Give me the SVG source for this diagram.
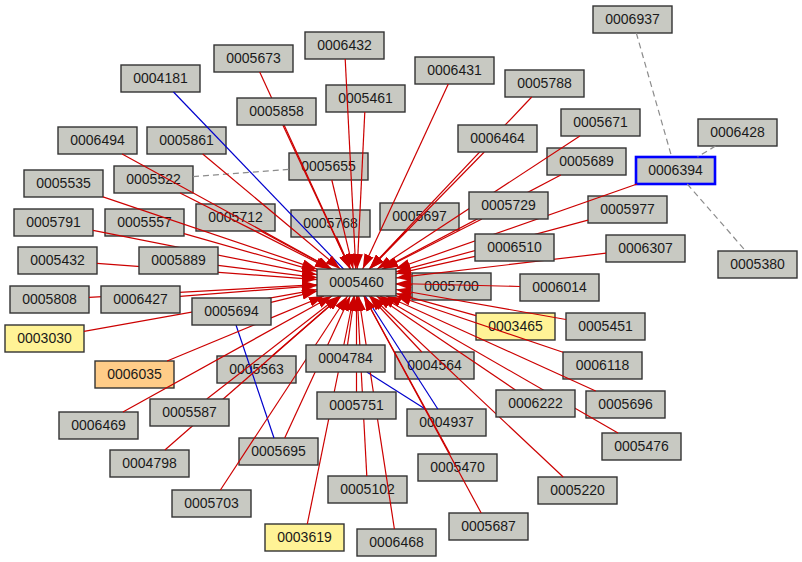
<svg xmlns="http://www.w3.org/2000/svg" width="802" height="562" viewBox="0 0 802 562">
<defs>
<marker id="ah" viewBox="0 0 15 10" markerWidth="15" markerHeight="10" refX="15" refY="5" orient="auto" markerUnits="userSpaceOnUse"><path d="M0,0L15,5L0,10z" fill="#cc0000"/></marker>
<style>
.n rect{fill:#c8c9c2;stroke:#333;stroke-width:1.4}
.y rect{fill:#fff396}
.o rect{fill:#ffcc88}
.sel rect{stroke:#0000ff;stroke-width:2.6}
text{font-family:"Liberation Sans",Arial,sans-serif;font-size:14px;fill:#1a1a1a;text-anchor:middle}
.r line{stroke:#cc0000;stroke-width:1.2;marker-end:url(#ah)}
.b line{stroke:#0000cc;stroke-width:1.2}
.g line{stroke:#8c8c8c;stroke-width:1.2;stroke-dasharray:6,4}
</style>
</defs>
<rect width="802" height="562" fill="#fff"/>
<g id="nodes-under">
<g id="n0006937" class="n"><rect x="593" y="6" width="79" height="27"/><text x="632.5" y="23.7">0006937</text></g>
<g id="n0006432" class="n"><rect x="305" y="32" width="79" height="27"/><text x="344.5" y="49.7">0006432</text></g>
<g id="n0005673" class="n"><rect x="214" y="45" width="79" height="27"/><text x="253.5" y="62.7">0005673</text></g>
<g id="n0004181" class="n"><rect x="121" y="65" width="79" height="27"/><text x="160.5" y="82.7">0004181</text></g>
<g id="n0006431" class="n"><rect x="415" y="57" width="79" height="27"/><text x="454.5" y="74.7">0006431</text></g>
<g id="n0005788" class="n"><rect x="505" y="70" width="79" height="27"/><text x="544.5" y="87.7">0005788</text></g>
<g id="n0005461" class="n"><rect x="326" y="85" width="79" height="27"/><text x="365.5" y="102.7">0005461</text></g>
<g id="n0005671" class="n"><rect x="561" y="109" width="79" height="27"/><text x="600.5" y="126.7">0005671</text></g>
<g id="n0006428" class="n"><rect x="698" y="119" width="79" height="27"/><text x="737.5" y="136.7">0006428</text></g>
<g id="n0006494" class="n"><rect x="58" y="127" width="79" height="27"/><text x="97.5" y="144.7">0006494</text></g>
<g id="n0005861" class="n"><rect x="147" y="127" width="79" height="27"/><text x="186.5" y="144.7">0005861</text></g>
<g id="n0005655" class="n"><rect x="289" y="153" width="79" height="27"/><text x="328.5" y="170.7">0005655</text></g>
<g id="n0005689" class="n"><rect x="547" y="148" width="79" height="27"/><text x="586.5" y="165.7">0005689</text></g>
<g id="n0006394" class="n sel"><rect x="636" y="157" width="79" height="27"/><text x="675.5" y="174.7">0006394</text></g>
<g id="n0005535" class="n"><rect x="24" y="170" width="79" height="27"/><text x="63.5" y="187.7">0005535</text></g>
<g id="n0005522" class="n"><rect x="114" y="166" width="79" height="27"/><text x="153.5" y="183.7">0005522</text></g>
<g id="n0005977" class="n"><rect x="588" y="196" width="79" height="27"/><text x="627.5" y="213.7">0005977</text></g>
<g id="n0005791" class="n"><rect x="14" y="209" width="79" height="27"/><text x="53.5" y="226.7">0005791</text></g>
<g id="n0005557" class="n"><rect x="105" y="209" width="79" height="27"/><text x="144.5" y="226.7">0005557</text></g>
<g id="n0005712" class="n"><rect x="196" y="204" width="79" height="27"/><text x="235.5" y="221.7">0005712</text></g>
<g id="n0005768" class="n"><rect x="291" y="210" width="79" height="27"/><text x="330.5" y="227.7">0005768</text></g>
<g id="n0005697" class="n"><rect x="380" y="203" width="79" height="27"/><text x="419.5" y="220.7">0005697</text></g>
<g id="n0006307" class="n"><rect x="606" y="235" width="79" height="27"/><text x="645.5" y="252.7">0006307</text></g>
<g id="n0005380" class="n"><rect x="718" y="251" width="79" height="27"/><text x="757.5" y="268.7">0005380</text></g>
<g id="n0005432" class="n"><rect x="18" y="247" width="79" height="27"/><text x="57.5" y="264.7">0005432</text></g>
<g id="n0005700" class="n"><rect x="412" y="273" width="79" height="27"/><text x="451.5" y="290.7">0005700</text></g>
<g id="n0006014" class="n"><rect x="520" y="274" width="79" height="27"/><text x="559.5" y="291.7">0006014</text></g>
<g id="n0005808" class="n"><rect x="10" y="286" width="79" height="27"/><text x="49.5" y="303.7">0005808</text></g>
<g id="n0003465" class="n y"><rect x="476" y="313" width="79" height="27"/><text x="515.5" y="330.7">0003465</text></g>
<g id="n0005451" class="n"><rect x="566" y="313" width="79" height="27"/><text x="605.5" y="330.7">0005451</text></g>
<g id="n0003030" class="n y"><rect x="5" y="325" width="79" height="27"/><text x="44.5" y="342.7">0003030</text></g>
<g id="n0004564" class="n"><rect x="395" y="352" width="79" height="27"/><text x="434.5" y="369.7">0004564</text></g>
<g id="n0006118" class="n"><rect x="563" y="352" width="79" height="27"/><text x="602.5" y="369.7">0006118</text></g>
<g id="n0006035" class="n o"><rect x="95" y="361" width="79" height="27"/><text x="134.5" y="378.7">0006035</text></g>
<g id="n0005563" class="n"><rect x="217" y="356" width="79" height="27"/><text x="256.5" y="373.7">0005563</text></g>
<g id="n0006469" class="n"><rect x="59" y="412" width="79" height="27"/><text x="98.5" y="429.7">0006469</text></g>
<g id="n0005696" class="n"><rect x="586" y="391" width="79" height="27"/><text x="625.5" y="408.7">0005696</text></g>
<g id="n0004937" class="n"><rect x="407" y="409" width="79" height="27"/><text x="446.5" y="426.7">0004937</text></g>
<g id="n0004798" class="n"><rect x="110" y="450" width="79" height="27"/><text x="149.5" y="467.7">0004798</text></g>
<g id="n0005695" class="n"><rect x="239" y="438" width="79" height="27"/><text x="278.5" y="455.7">0005695</text></g>
<g id="n0005476" class="n"><rect x="602" y="433" width="79" height="27"/><text x="641.5" y="450.7">0005476</text></g>
<g id="n0005470" class="n"><rect x="418" y="454" width="79" height="27"/><text x="457.5" y="471.7">0005470</text></g>
<g id="n0005703" class="n"><rect x="172" y="490" width="79" height="27"/><text x="211.5" y="507.7">0005703</text></g>
<g id="n0005102" class="n"><rect x="328" y="476" width="79" height="27"/><text x="367.5" y="493.7">0005102</text></g>
<g id="n0005220" class="n"><rect x="538" y="477" width="79" height="27"/><text x="577.5" y="494.7">0005220</text></g>
<g id="n0005687" class="n"><rect x="449" y="513" width="79" height="27"/><text x="488.5" y="530.7">0005687</text></g>
<g id="n0003619" class="n y"><rect x="265" y="524" width="79" height="27"/><text x="304.5" y="541.7">0003619</text></g>
<g id="n0006468" class="n"><rect x="357" y="529" width="79" height="27"/><text x="396.5" y="546.7">0006468</text></g>
</g>
<g id="connectors">
<g class="g">
<line x1="193" y1="176.6" x2="289" y2="169.4"/>
<line x1="636.3" y1="33" x2="671.7" y2="157"/>
<line x1="715.5" y1="146" x2="697.5" y2="157"/>
<line x1="687.3" y1="184" x2="745.7" y2="251"/>
</g>
<g class="b">
<line x1="173.5" y1="92" x2="343.5" y2="269"/>
<line x1="365.2" y1="296" x2="437.8" y2="409"/>
<line x1="366.8" y1="372" x2="425.2" y2="409"/>
<line x1="236" y1="325" x2="274" y2="438"/>
</g>
<g class="r">
<line x1="345.2" y1="59" x2="355.8" y2="269"/>
<line x1="259.7" y1="72" x2="350.3" y2="269"/>
<line x1="448.3" y1="84" x2="362.7" y2="269"/>
<line x1="531.7" y1="97" x2="369.2" y2="269"/>
<line x1="282.8" y1="125" x2="350.2" y2="269"/>
<line x1="364.8" y1="112" x2="357.2" y2="269"/>
<line x1="484.3" y1="152" x2="369.7" y2="269"/>
<line x1="579.9" y1="136" x2="377.1" y2="269"/>
<line x1="122.1" y1="154" x2="331.9" y2="269"/>
<line x1="202.7" y1="154" x2="340.3" y2="269"/>
<line x1="331.8" y1="180" x2="353.2" y2="269"/>
<line x1="560.8" y1="175" x2="382.2" y2="269"/>
<line x1="637.1" y1="184" x2="395" y2="269"/>
<line x1="103" y1="196.9" x2="317" y2="269.1"/>
<line x1="180.1" y1="193" x2="329.9" y2="269"/>
<line x1="481.9" y1="219" x2="383.2" y2="269"/>
<line x1="588" y1="220.1" x2="396" y2="271.9"/>
<line x1="93" y1="230.3" x2="317" y2="274.7"/>
<line x1="184" y1="233.7" x2="317" y2="271.3"/>
<line x1="260.6" y1="231" x2="331.4" y2="269"/>
<line x1="336.5" y1="237" x2="350.5" y2="269"/>
<line x1="406.6" y1="230" x2="369.4" y2="269"/>
<line x1="475" y1="256.3" x2="396" y2="273.8"/>
<line x1="606" y1="253.2" x2="396" y2="277.9"/>
<line x1="97" y1="263.4" x2="317" y2="279.6"/>
<line x1="218" y1="265.4" x2="317" y2="277.6"/>
<line x1="412" y1="284.8" x2="396" y2="284.2"/>
<line x1="520" y1="286.5" x2="396" y2="283.5"/>
<line x1="89" y1="297.3" x2="317" y2="284.7"/>
<line x1="180" y1="296.4" x2="317" y2="285.6"/>
<line x1="271" y1="302.3" x2="317" y2="291.2"/>
<line x1="476" y1="315.6" x2="396" y2="293.4"/>
<line x1="566" y1="319.5" x2="396" y2="289.5"/>
<line x1="84" y1="331.4" x2="317" y2="289.6"/>
<line x1="347.5" y1="345" x2="354.5" y2="296"/>
<line x1="421.8" y1="352" x2="369.2" y2="296"/>
<line x1="563" y1="352.2" x2="396" y2="295.8"/>
<line x1="167.1" y1="361" x2="323.9" y2="296"/>
<line x1="272" y1="356" x2="341" y2="296"/>
<line x1="122.9" y1="412" x2="332.1" y2="296"/>
<line x1="206.8" y1="399" x2="339.2" y2="296"/>
<line x1="515.5" y1="390" x2="376.5" y2="296"/>
<line x1="595.7" y1="391" x2="386.3" y2="296"/>
<line x1="164.9" y1="450" x2="341.1" y2="296"/>
<line x1="284.7" y1="438" x2="350.3" y2="296"/>
<line x1="356.5" y1="392" x2="356.5" y2="296"/>
<line x1="618" y1="433" x2="380" y2="296"/>
<line x1="450.1" y1="454" x2="363.9" y2="296"/>
<line x1="220.4" y1="490" x2="347.6" y2="296"/>
<line x1="366.8" y1="476" x2="357.2" y2="296"/>
<line x1="563.2" y1="477" x2="370.8" y2="296"/>
<line x1="481.2" y1="513" x2="363.8" y2="296"/>
<line x1="307.3" y1="524" x2="353.8" y2="296"/>
<line x1="394.4" y1="529" x2="358.6" y2="296"/>
</g>
</g>
<g id="nodes-over">
<g id="n0005858" class="n"><rect x="237" y="98" width="79" height="27"/><text x="276.5" y="115.7">0005858</text></g>
<g id="n0006464" class="n"><rect x="458" y="125" width="79" height="27"/><text x="497.5" y="142.7">0006464</text></g>
<g id="n0005729" class="n"><rect x="469" y="192" width="79" height="27"/><text x="508.5" y="209.7">0005729</text></g>
<g id="n0006510" class="n"><rect x="475" y="234" width="79" height="27"/><text x="514.5" y="251.7">0006510</text></g>
<g id="n0005889" class="n"><rect x="139" y="247" width="79" height="27"/><text x="178.5" y="264.7">0005889</text></g>
<g id="n0006427" class="n"><rect x="101" y="286" width="79" height="27"/><text x="140.5" y="303.7">0006427</text></g>
<g id="n0005694" class="n"><rect x="192" y="298" width="79" height="27"/><text x="231.5" y="315.7">0005694</text></g>
<g id="n0005587" class="n"><rect x="150" y="399" width="79" height="27"/><text x="189.5" y="416.7">0005587</text></g>
<g id="n0004784" class="n"><rect x="306" y="345" width="79" height="27"/><text x="345.5" y="362.7">0004784</text></g>
<g id="n0005751" class="n"><rect x="317" y="392" width="79" height="27"/><text x="356.5" y="409.7">0005751</text></g>
<g id="n0006222" class="n"><rect x="496" y="390" width="79" height="27"/><text x="535.5" y="407.7">0006222</text></g>
<g id="n0005460" class="n"><rect x="317" y="269" width="79" height="27"/><text x="356.5" y="286.7">0005460</text></g>
</g>
</svg>
